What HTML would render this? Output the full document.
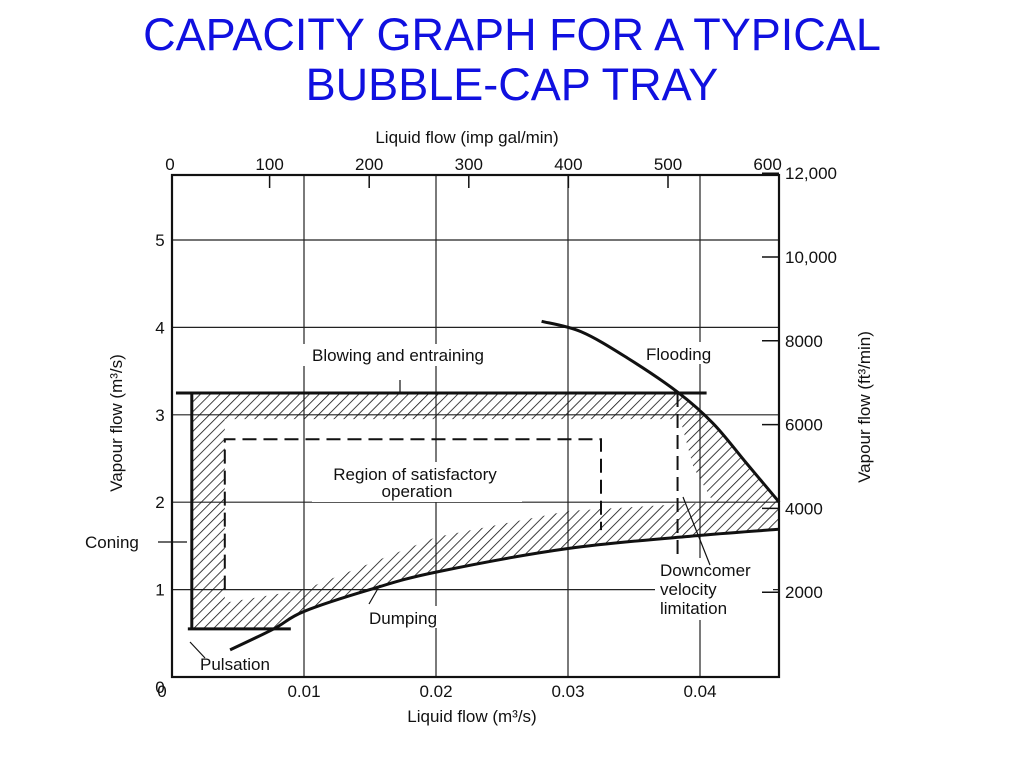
<!DOCTYPE html>
<html><head><meta charset="utf-8"><style>
body{margin:0;background:#fff;width:1024px;height:768px;overflow:hidden;font-family:"Liberation Sans",sans-serif}
#title{position:absolute;left:0;top:10px;width:1024px;text-align:center;color:#1010e0;font-size:45px;line-height:50px}
svg{position:absolute;left:0;top:0}
svg text{font-family:"Liberation Sans",sans-serif;fill:#111}
</style></head><body>
<div id="title">CAPACITY GRAPH FOR A TYPICAL<br>BUBBLE-CAP TRAY</div>
<svg id="c" width="1024" height="768">
<defs><pattern id="hatch" width="7" height="7" patternUnits="userSpaceOnUse" patternTransform="rotate(45)"><line x1="0" y1="0" x2="0" y2="7" stroke="#111" stroke-width="1.6"/></pattern></defs>
</svg>
<script>
const xTicks=[0,0.01,0.02,0.03,0.04];
const xTickLabels=["0","0.01","0.02","0.03","0.04"];
const yTicks=[1,2,3,4,5];
const topTicks=[0,100,200,300,400,500,600];
const rightTicks=[2000,4000,6000,8000,10000,12000];
const rightTickLabels=["2000","4000","6000","8000","10,000","12,000"];
const floodX=[0.028,0.031,0.0345,0.0383,0.041,0.0435,0.046];
const floodY=[4.07,3.95,3.65,3.26,2.9,2.45,2.0];
const dumpX=[0.0044,0.0077,0.01,0.015,0.02,0.03,0.04,0.046];
const dumpY=[0.31,0.55,0.75,1.0,1.2,1.47,1.62,1.69];
const innerX=[0.004,0.0385,0.0395,0.041,0.03,0.02,0.01,0.004];
const innerY=[2.95,2.95,2.4,2.0,1.9,1.6,1.0,0.85];
const blowY=3.25, pulseY=0.55, leftX=0.0015;

const L=172,R=779,T=175,B=677;
const X=v=>L+v*13200, Y=v=>B-v*87.4;
const TX=v=>170+v*0.996;
const RY=v=>676-v*0.0419;
const s=document.getElementById('c');
const NS='http://www.w3.org/2000/svg';
function mk(t,a,txt){const e=document.createElementNS(NS,t);for(const k in a)e.setAttribute(k,a[k]);if(txt!==undefined)e.textContent=txt;s.appendChild(e);return e;}
function smooth(xs,ys){const p=xs.map((v,i)=>[X(v),Y(ys[i])]);let d='M'+p[0][0]+' '+p[0][1];
for(let i=0;i<p.length-1;i++){const p0=p[i-1]||p[i],p1=p[i],p2=p[i+1],p3=p[i+2]||p2;
d+=` C${p1[0]+(p2[0]-p0[0])/6} ${p1[1]+(p2[1]-p0[1])/6} ${p2[0]-(p3[0]-p1[0])/6} ${p2[1]-(p3[1]-p1[1])/6} ${p2[0]} ${p2[1]}`;}return d;}
// grid
xTicks.slice(1).forEach(v=>{const e=mk('line',{x1:X(v),y1:T,x2:X(v),y2:B,stroke:'#222','stroke-width':1.2});

});
yTicks.forEach(v=>{const e=mk('line',{x1:L,y1:Y(v),x2:R,y2:Y(v),stroke:'#222','stroke-width':1.2});

});
// hatch
let outer=[[leftX,pulseY],[leftX,blowY]];
for(let i=0;i<floodX.length;i++)if(floodY[i]<=blowY+0.02)outer.push([floodX[i],floodY[i]]);
for(let i=dumpX.length-1;i>=1;i--)outer.push([dumpX[i],dumpY[i]]);
let d='M'+outer.map(p=>X(p[0])+' '+Y(p[1])).join(' L')+' Z ';
d+='M'+innerX.map((v,i)=>X(v)+' '+Y(innerY[i])).join(' L')+' Z';
const h=mk('path',{d:d,fill:'url(#hatch)','fill-rule':'evenodd',stroke:'none'});


// label backgrounds
[[290,344,215,22],[640,342,90,22],[312,462,210,40],[655,558,118,62],[364,606,92,22],[196,654,92,22]].forEach(r=>{const e=mk('rect',{x:r[0],y:r[1],width:r[2],height:r[3],fill:'#fff'});

});
// frame
const fr=mk('rect',{x:L,y:T,width:R-L,height:B-T,fill:'none',stroke:'#111','stroke-width':2.2});


const f=mk('path',{d:smooth(floodX,floodY),fill:'none',stroke:'#111','stroke-width':3});


const dm=mk('path',{d:smooth(dumpX,dumpY),fill:'none',stroke:'#111','stroke-width':3});


const bl=mk('line',{x1:X(0.0003),y1:Y(blowY),x2:X(0.0405),y2:Y(blowY),stroke:'#111','stroke-width':3});


const lv=mk('line',{x1:X(leftX),y1:Y(blowY),x2:X(leftX),y2:Y(pulseY),stroke:'#111','stroke-width':3});


const pl=mk('line',{x1:X(0.0012),y1:Y(pulseY),x2:X(0.009),y2:Y(pulseY),stroke:'#111','stroke-width':3});


const ds=mk('path',{d:`M${X(0.004)} ${Y(1.0)} L${X(0.004)} ${Y(2.72)} L${X(0.0325)} ${Y(2.72)} L${X(0.0325)} ${Y(1.68)}`,fill:'none',stroke:'#111','stroke-width':2,'stroke-dasharray':'14 7'});


const dc=mk('line',{x1:X(0.0383),y1:Y(blowY),x2:X(0.0383),y2:Y(1.35),stroke:'#111','stroke-width':2,'stroke-dasharray':'14 7'});


// ticks & labels
xTicks.forEach((v,i)=>{const e=mk('text',{x:X(v)+(i?0:-10),y:697,'font-size':17,'text-anchor':'middle'},xTickLabels[i]);

});
[0].concat(yTicks).forEach(v=>{const e=mk('text',{x:160,y:Y(v)+(v?6:16),'font-size':17,'text-anchor':'middle'},String(v));

});
topTicks.forEach(v=>{const e=mk('text',{x:TX(v),y:170,'font-size':17,'text-anchor':'middle'},String(v));


if(v>0&&v<600){const t=mk('line',{x1:TX(v),y1:T,x2:TX(v),y2:188,stroke:'#111','stroke-width':1.5});

}});
rightTicks.forEach((v,i)=>{const t=mk('line',{x1:762,y1:RY(v),x2:R,y2:RY(v),stroke:'#111','stroke-width':1.5});


const e=mk('text',{x:785,y:RY(v)+6,'font-size':17},rightTickLabels[i]);

});
function lab(x,y,t,n,a,extra){const e=mk('text',Object.assign({x:x,y:y,'font-size':17,'text-anchor':a||'start'},extra||{}),t);

return e;}
lab(467,143,'Liquid flow  (imp gal/min)','top-axis-title','middle');
lab(472,722,'Liquid flow (m³/s)','x-axis-title','middle');
lab(122,423,'Vapour flow (m³/s)','y-axis-title','middle',{transform:'rotate(-90 122 423)'});
lab(870,407,'Vapour flow (ft³/min)','right-axis-title','middle',{transform:'rotate(-90 870 407)'});
lab(398,361,'Blowing and entraining','blowing-label','middle');
lab(646,360,'Flooding','flooding-label');
lab(415,480,'Region of satisfactory','region-label','middle');
lab(417,497,'operation','region-label-2','middle');
lab(85,548,'Coning','coning-label');
lab(369,624,'Dumping','dumping-label');
lab(200,670,'Pulsation','pulsation-label');
lab(660,576,'Downcomer','downcomer-label');
lab(660,595,'velocity','downcomer-label-2');
lab(660,614,'limitation','downcomer-label-3');
[[400,380,400,393],[158,542,187,542],[190,642,205,658],[369,604,380,585],[683,497,710,565]].forEach(p=>{const e=mk('line',{x1:p[0],y1:p[1],x2:p[2],y2:p[3],stroke:'#111','stroke-width':1.2});

});
</script>
</body></html>
